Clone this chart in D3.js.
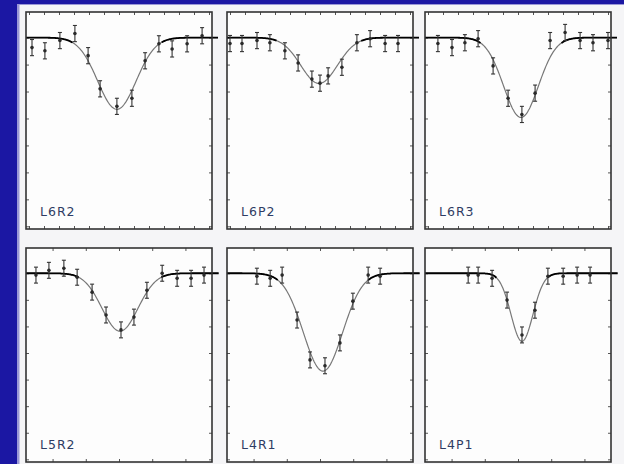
<!DOCTYPE html>
<html lang="en">
<head>
  <meta charset="UTF-8">
  <title>Line profiles</title>
  <style>
    html, body {
      margin: 0;
      padding: 0;
      background: #1b17a3;
      overflow: hidden;
    }
    svg { display: block; }
    .label {
      font-family: 'DejaVu Sans', sans-serif;
      font-size: 12.5px;
      letter-spacing: 1px;
      fill: #2e3c64;
    }
  </style>
</head>
<body>
  <svg id="chart" width="624" height="464"></svg>

  <script src="https://cdnjs.cloudflare.com/ajax/libs/d3/7.8.5/d3.min.js"></script>
  <script>
    // panel names, in reading order
    const labels = ["L6R2", "L6P2", "L6R3", "L5R2", "L4R1", "L4P1"];

    // gaussian fit per panel: centre, sigma, depth below continuum
    const centres = [-0.7, -0.3, 1.0, 0.3, 0.9, 1.2];
    const sigmas  = [6.4, 6.1, 5.8, 5.4, 5.9, 3.3];
    const depths  = [0.266, 0.17, 0.296, 0.218, 0.368, 0.256];

    // observed points (velocity, normalised flux)
    const obsX = [
      [-29.0, -24.7, -19.7, -14.7, -10.3, -6.3, -0.7, 4.3, 8.7, 13.3, 17.7, 22.7, 27.7],
      [-30.0, -26.0, -21.0, -16.7, -11.7, -7.3, -2.7, 0.0, 2.7, 7.3, 12.3, 16.7, 21.7, 26.0],
      [-26.7, -22.0, -17.7, -13.3, -8.3, -3.3, 1.3, 5.7, 10.7, 15.7, 20.7, 25.0, 30.0],
      [-25.0, -21.1, -16.6, -12.6, -8.1, -3.9, 0.6, 4.5, 8.4, 13.0, 17.5, 21.7, 25.6],
      [-19.0, -15.0, -11.4, -6.9, -3.0, 1.5, 6.0, 9.9, 14.5, 18.1],
      [-15.0, -12.0, -7.8, -3.3, 1.2, 5.1, 9.0, 13.6, 17.8, 21.7]
    ];
    const obsY = [
      [0.963, 0.951, 0.989, 1.015, 0.933, 0.81, 0.745, 0.775, 0.914, 0.977, 0.958, 0.977, 1.007],
      [0.978, 0.978, 0.989, 0.981, 0.951, 0.906, 0.846, 0.831, 0.858, 0.89, 0.981, 0.996, 0.978, 0.978],
      [0.978, 0.963, 0.981, 0.996, 0.895, 0.775, 0.715, 0.794, 0.989, 1.019, 0.989, 0.981, 0.989],
      [0.993, 1.011, 1.019, 0.985, 0.929, 0.843, 0.787, 0.835, 0.936, 1.0, 0.981, 0.981, 0.993],
      [0.989, 0.981, 0.993, 0.824, 0.674, 0.652, 0.738, 0.895, 0.993, 0.989],
      [0.993, 0.993, 0.981, 0.899, 0.768, 0.861, 0.989, 0.989, 0.993, 0.993]
    ];
    const errBar = 0.03;

    // axis ranges and ticks, top row / bottom row
    const xDomains = [[-31, 31], [-28, 28]];
    const xTicks = [
      [-30, -25, -20, -15, -10, -5, 0, 5, 10, 15, 20, 25, 30],
      [-20, -10, 0, 10, 20]
    ];
    const yDomain = [0.29, 1.095];
    const yTicks = [0.3, 0.4, 0.5, 0.6, 0.7, 0.8, 0.9, 1.0];

    // layout
    const colLeft = [26, 227, 425];
    const panelW = 186;
    const rowTop = [12, 248];
    const rowH = [217, 214];

    const svg = d3.select("#chart");

    // slide card behind the plots
    svg.append("rect").attr("x", 17).attr("y", 4).attr("width", 607).attr("height", 460)
      .attr("fill", "#9a98d6");
    svg.append("rect").attr("x", 19.5).attr("y", 5).attr("width", 605).attr("height", 459)
      .attr("fill", "#f5f5f7");

    labels.forEach((name, i) => {
      const row = Math.floor(i / 3), col = i % 3;
      const x0 = colLeft[col], y0 = rowTop[row], h = rowH[row];

      const x = d3.scaleLinear().domain(xDomains[row]).range([0, panelW]);
      const y = d3.scaleLinear().domain(yDomain).range([h, 0]);

      const g = svg.append("g").attr("transform", `translate(${x0},${y0})`);

      g.append("rect").attr("width", panelW).attr("height", h).attr("fill", "#fdfdfd");

      // inward ticks on all four sides
      const tickLen = 3;
      g.append("g").call(d3.axisTop(x).tickValues(xTicks[row]).tickSize(-tickLen).tickFormat(""));
      g.append("g").attr("transform", `translate(0,${h})`)
        .call(d3.axisBottom(x).tickValues(xTicks[row]).tickSize(-tickLen).tickFormat(""));
      g.append("g").call(d3.axisLeft(y).tickValues(yTicks).tickSize(-tickLen).tickFormat(""));
      g.append("g").attr("transform", `translate(${panelW},0)`)
        .call(d3.axisRight(y).tickValues(yTicks).tickSize(-tickLen).tickFormat(""));
      g.selectAll(".domain").remove();
      g.selectAll(".tick line").attr("stroke", "#555").attr("stroke-width", 1);

      // model profile
      const c = centres[i], s = sigmas[i], dep = depths[i];
      const model = v => 1 - dep * Math.exp(-((v - c) * (v - c)) / (2 * s * s));
      const xEnd = xDomains[row][1] + 2;
      const grid = d3.range(xDomains[row][0], xEnd + 0.001, 0.25);

      g.append("path")
        .datum(grid)
        .attr("fill", "none")
        .attr("stroke", "#777")
        .attr("stroke-width", 1.2)
        .attr("d", d3.line().x(v => x(v)).y(v => y(model(v))));

      // continuum part drawn heavier
      g.append("path")
        .datum(grid)
        .attr("fill", "none")
        .attr("stroke", "#000")
        .attr("stroke-width", 1.8)
        .attr("d", d3.line().defined(v => Math.abs(v - c) > 2.3 * s)
          .x(v => x(v)).y(v => y(model(v))));

      // error bars and points
      const pts = obsX[i].map((v, k) => ({ v: v, f: obsY[i][k] }));
      const eb = g.append("g").attr("stroke", "#333").attr("stroke-width", 1.1);
      eb.selectAll("line.bar").data(pts).enter().append("line")
        .attr("x1", d => x(d.v)).attr("x2", d => x(d.v))
        .attr("y1", d => y(d.f - errBar)).attr("y2", d => y(d.f + errBar));
      eb.selectAll("line.cap-top").data(pts).enter().append("line")
        .attr("x1", d => x(d.v) - 2).attr("x2", d => x(d.v) + 2)
        .attr("y1", d => y(d.f + errBar)).attr("y2", d => y(d.f + errBar));
      eb.selectAll("line.cap-bot").data(pts).enter().append("line")
        .attr("x1", d => x(d.v) - 2).attr("x2", d => x(d.v) + 2)
        .attr("y1", d => y(d.f - errBar)).attr("y2", d => y(d.f - errBar));
      g.selectAll("circle").data(pts).enter().append("circle")
        .attr("cx", d => x(d.v)).attr("cy", d => y(d.f))
        .attr("r", 1.8).attr("fill", "#2a2a2a");

      // frame
      g.append("rect").attr("width", panelW).attr("height", h)
        .attr("fill", "none").attr("stroke", "#333").attr("stroke-width", 1.6);

      g.append("text").attr("class", "label")
        .attr("x", 14).attr("y", h - 13)
        .text(name);
    });
  </script>
</body>
</html>
